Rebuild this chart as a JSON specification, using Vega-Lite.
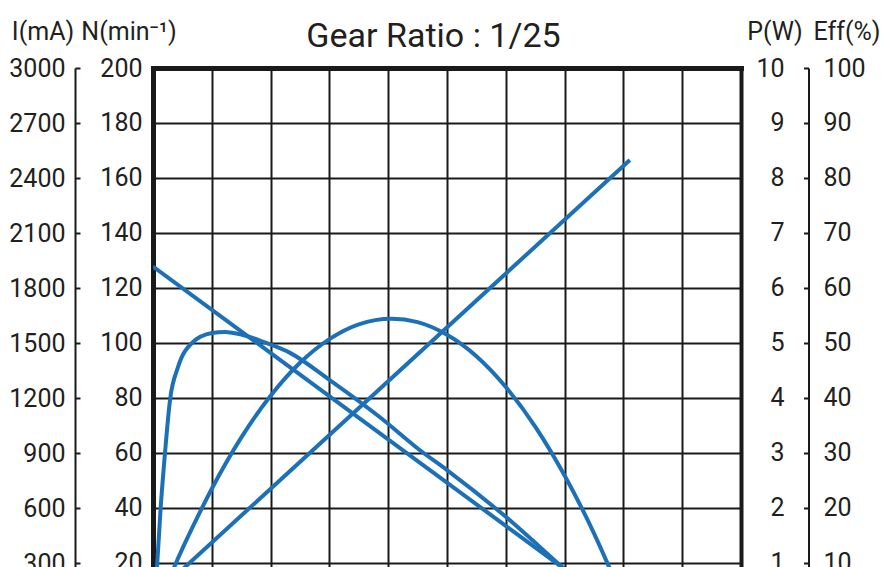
{
  "$schema": "https://vega.github.io/schema/vega-lite/v6.json",
  "autosize": {"type": "none"},
  "padding": {"left": 153, "top": 68, "right": 144, "bottom": 0},
  "width": 588,
  "height": 499,
  "title": {
    "text": "Gear Ratio : 1/25",
    "font": "Roboto",
    "fontSize": 34,
    "fontWeight": "normal",
    "color": "#231f20",
    "anchor": "middle",
    "frame": "group",
    "baseline": "alphabetic",
    "dx": -13.5,
    "offset": -62
  },
  "config": {
    "view": {"stroke": null},
    "axis": {
      "labelFont": "Roboto",
      "labelFontSize": 25,
      "labelColor": "#231f20",
      "titleFont": "Roboto",
      "titleFontSize": 25,
      "titleFontWeight": "normal",
      "titleColor": "#231f20",
      "domainColor": "#1a1a1a",
      "tickColor": "#1a1a1a",
      "gridColor": "#1a1a1a",
      "gridOpacity": 1,
      "gridWidth": 2,
      "tickWidth": 2,
      "domainWidth": 2,
      "labelOverlap": false,
      "format": "d"
    }
  },
  "datasets": {
    "speed": [
      {"T": 0, "N": 127.8},
      {"T": 8.13, "N": 0}
    ],
    "current": [
      {"T": 0, "I": 118},
      {"T": 8.11, "I": 2498}
    ],
    "power": [
      {"T": 0, "P": 0},
      {"T": 0.25, "P": 0.65},
      {"T": 0.5, "P": 1.26},
      {"T": 0.75, "P": 1.82},
      {"T": 1.0, "P": 2.35},
      {"T": 1.5, "P": 3.28},
      {"T": 2.0, "P": 4.04},
      {"T": 2.5, "P": 4.64},
      {"T": 3.0, "P": 5.07},
      {"T": 3.5, "P": 5.34},
      {"T": 4.06, "P": 5.44},
      {"T": 4.5, "P": 5.38},
      {"T": 5.0, "P": 5.15},
      {"T": 5.5, "P": 4.76},
      {"T": 6.0, "P": 4.2},
      {"T": 6.5, "P": 3.48},
      {"T": 7.0, "P": 2.59},
      {"T": 7.5, "P": 1.54},
      {"T": 7.8, "P": 0.82},
      {"T": 8.12, "P": 0}
    ],
    "efficiency": [
      {"T": 0, "Eff": 0},
      {"T": 0.02, "Eff": 3},
      {"T": 0.068, "Eff": 9.3},
      {"T": 0.13, "Eff": 20},
      {"T": 0.204, "Eff": 30},
      {"T": 0.289, "Eff": 39.6},
      {"T": 0.425, "Eff": 45.6},
      {"T": 0.663, "Eff": 50},
      {"T": 1.003, "Eff": 51.8},
      {"T": 1.224, "Eff": 52},
      {"T": 1.514, "Eff": 51.5},
      {"T": 1.9, "Eff": 50.1},
      {"T": 2.33, "Eff": 48.2},
      {"T": 3.0, "Eff": 43.3},
      {"T": 3.86, "Eff": 36.5},
      {"T": 4.54, "Eff": 30.5},
      {"T": 5.0, "Eff": 26.9},
      {"T": 6.0, "Eff": 18.4},
      {"T": 6.956, "Eff": 9.3},
      {"T": 7.5, "Eff": 4.2},
      {"T": 8.05, "Eff": 0}
    ]
  },
  "encoding": {
    "x": {
      "field": "T",
      "type": "quantitative",
      "scale": {"domain": [0, 10], "nice": false, "zero": false},
      "axis": {
        "orient": "top",
        "values": [0, 1, 2, 3, 4, 5, 6, 7, 8, 9, 10],
        "grid": true,
        "ticks": false,
        "labels": false,
        "domain": true,
        "domainWidth": 5,
        "domainCap": "square",
        "title": null
      }
    }
  },
  "resolve": {"scale": {"y": "independent"}, "axis": {"y": "independent"}},
  "layer": [
    {
      "data": {"name": "speed"},
      "mark": {"type": "line", "color": "#1c70b7", "strokeWidth": 4, "clip": true},
      "encoding": {
        "y": {
          "field": "N",
          "type": "quantitative",
          "scale": {"domain": [18.545, 200], "nice": false, "zero": false},
          "axis": {
            "orient": "left",
            "offset": 0,
            "values": [20, 40, 60, 80, 100, 120, 140, 160, 180, 200],
            "grid": true,
            "ticks": false,
            "domain": true,
            "domainWidth": 5,
            "domainCap": "square",
            "labelPadding": 11,
            "title": "N(min⁻¹)",
            "titleAngle": 0,
            "titleAlign": "center",
            "titleBaseline": "alphabetic",
            "titleX": -24.5,
            "titleY": -29
          }
        }
      }
    },
    {
      "data": {"name": "current"},
      "mark": {"type": "line", "color": "#1c70b7", "strokeWidth": 4, "clip": true},
      "encoding": {
        "y": {
          "field": "I",
          "type": "quantitative",
          "scale": {"domain": [278.2, 3000], "nice": false, "zero": false},
          "axis": {
            "orient": "left",
            "offset": 78,
            "values": [300, 600, 900, 1200, 1500, 1800, 2100, 2400, 2700, 3000],
            "grid": false,
            "ticks": true,
            "tickSize": -5,
            "domain": true,
            "labelPadding": 15,
            "title": "I(mA)",
            "titleAngle": 0,
            "titleAlign": "center",
            "titleBaseline": "alphabetic",
            "titleX": -32.5,
            "titleY": -29
          }
        }
      }
    },
    {
      "data": {"name": "power"},
      "mark": {"type": "line", "color": "#1c70b7", "strokeWidth": 4, "clip": true, "interpolate": "monotone"},
      "encoding": {
        "y": {
          "field": "P",
          "type": "quantitative",
          "scale": {"domain": [0.927, 10], "nice": false, "zero": false},
          "axis": {
            "orient": "left",
            "offset": -655.5,
            "values": [1, 2, 3, 4, 5, 6, 7, 8, 9, 10],
            "grid": false,
            "ticks": true,
            "tickSize": 5,
            "domain": true,
            "labelPadding": 19.5,
            "title": "P(W)",
            "titleAngle": 0,
            "titleAlign": "center",
            "titleBaseline": "alphabetic",
            "titleX": -34,
            "titleY": -29
          }
        }
      }
    },
    {
      "data": {"name": "efficiency"},
      "mark": {"type": "line", "color": "#1c70b7", "strokeWidth": 4, "clip": true, "interpolate": "monotone"},
      "encoding": {
        "y": {
          "field": "Eff",
          "type": "quantitative",
          "scale": {"domain": [9.27, 100], "nice": false, "zero": false},
          "axis": {
            "orient": "right",
            "offset": 0,
            "values": [10, 20, 30, 40, 50, 60, 70, 80, 90, 100],
            "grid": false,
            "ticks": false,
            "domain": true,
            "domainWidth": 4,
            "domainCap": "square",
            "labelPadding": 82,
            "title": "Eff(%)",
            "titleAngle": 0,
            "titleAlign": "center",
            "titleBaseline": "alphabetic",
            "titleX": 105.5,
            "titleY": -29
          }
        }
      }
    }
  ]
}
